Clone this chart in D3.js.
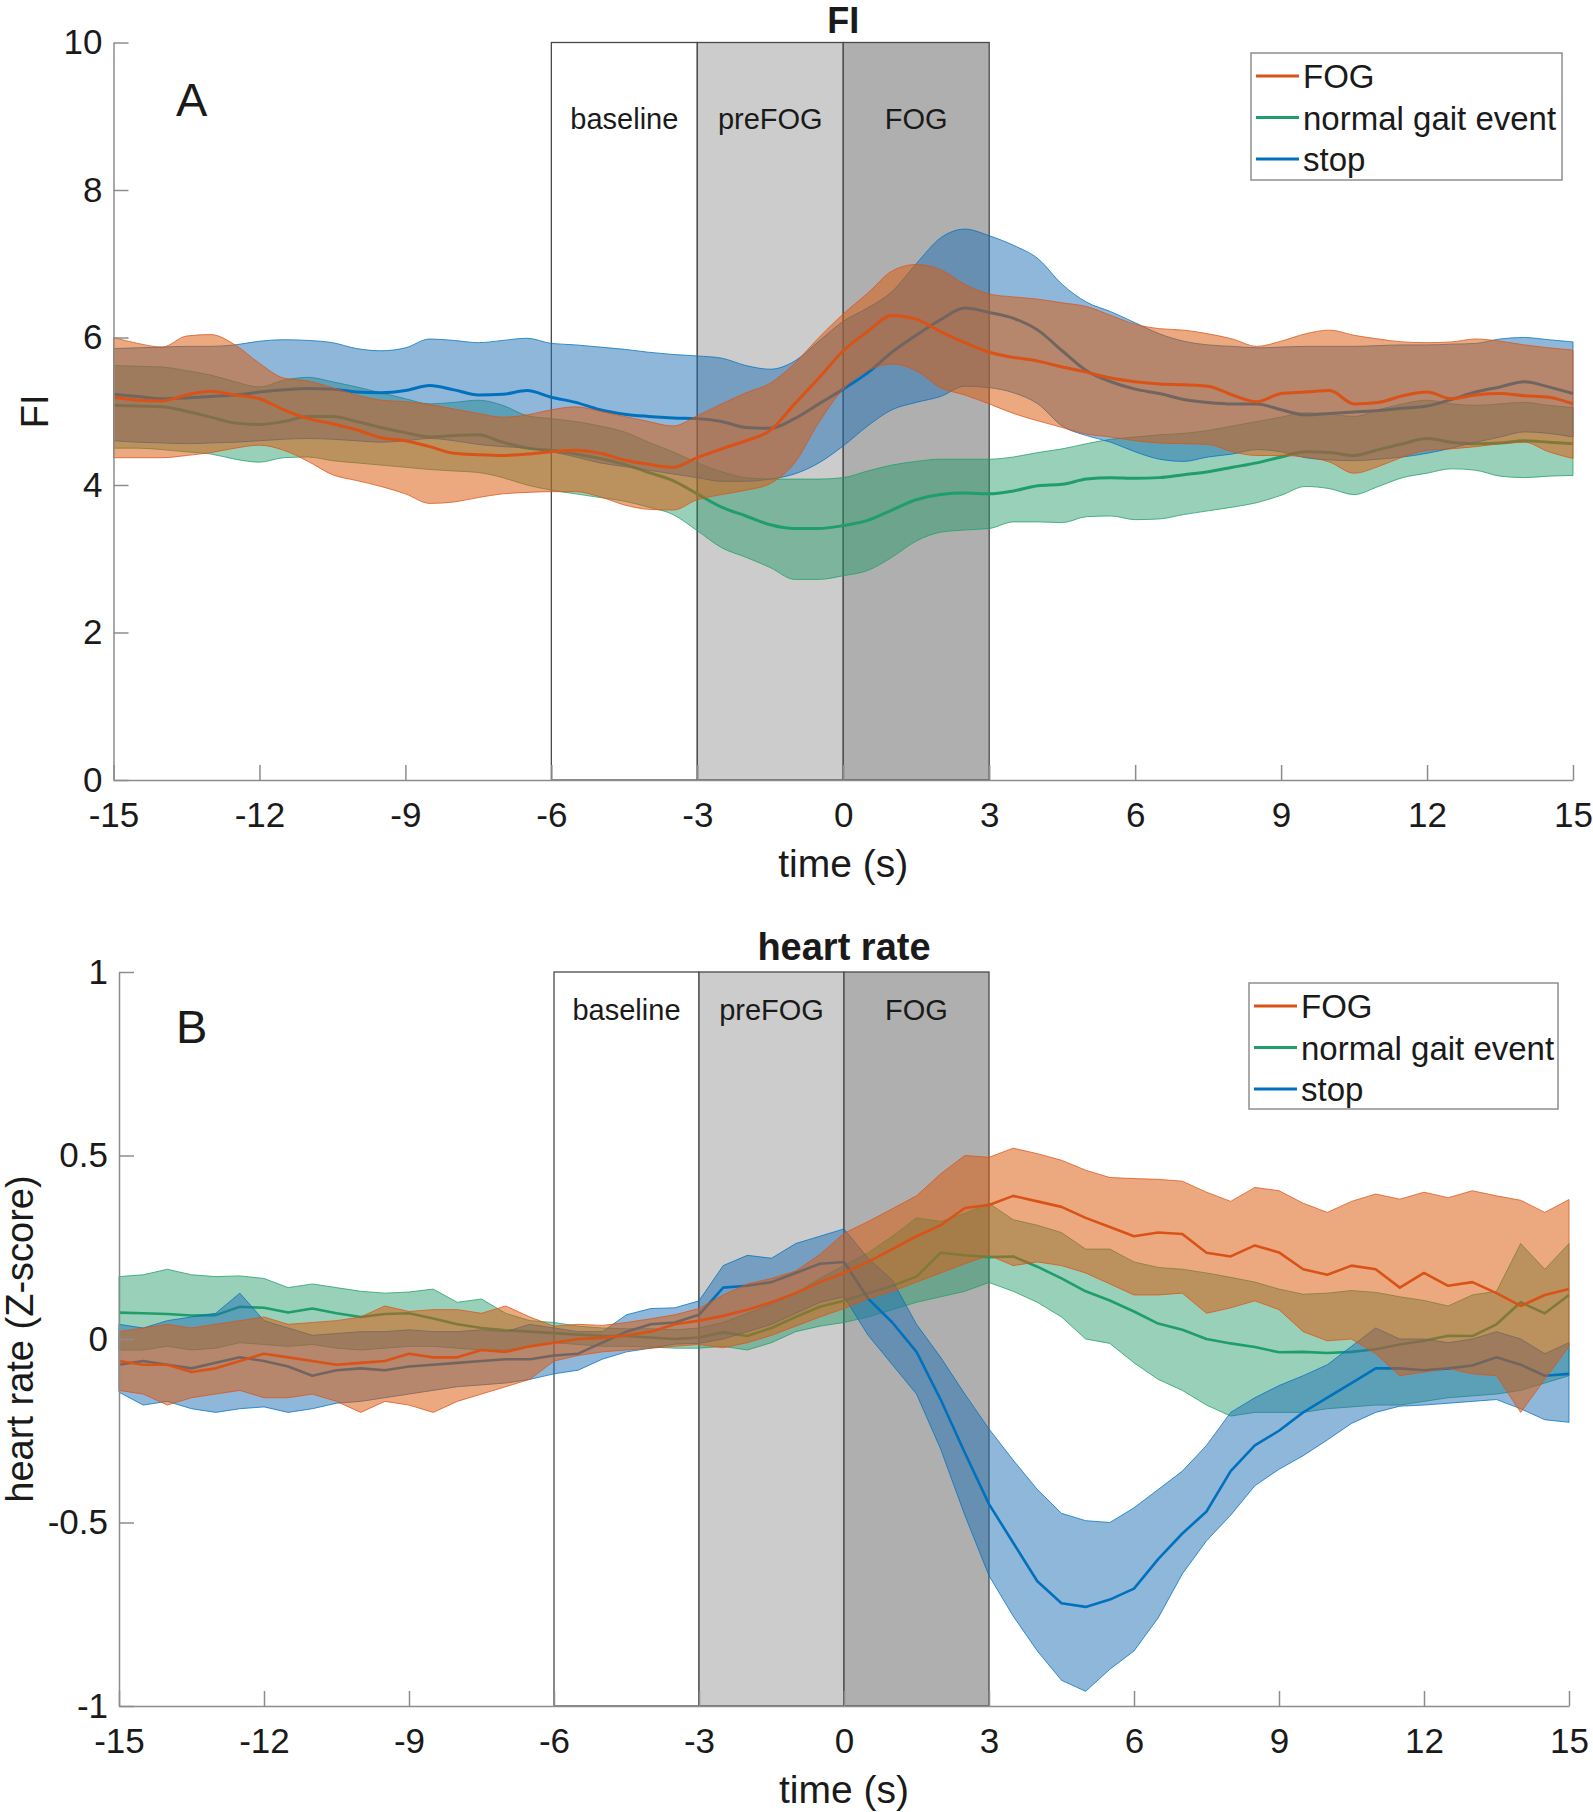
<!DOCTYPE html>
<html>
<head>
<meta charset="utf-8">
<script src="https://cdn.jsdelivr.net/npm/d3@7"></script>
<style>
  body { margin: 0; background: #fff; }
  text { font-family: "Liberation Sans", Arial, Helvetica, sans-serif; fill: #1a1a1a; }
</style>
</head>
<body>
<script>
// sample times (s), shared by both panels
const seconds = [-15, -14.5, -14, -13.5, -13, -12.5, -12, -11.5, -11, -10.5,
  -10, -9.5, -9, -8.5, -8, -7.5, -7, -6.5, -6, -5.5,
  -5, -4.5, -4, -3.5, -3, -2.5, -2, -1.5, -1, -0.5,
  0, 0.5, 1, 1.5, 2, 2.5, 3, 3.5, 4, 4.5,
  5, 5.5, 6, 6.5, 7, 7.5, 8, 8.5, 9, 9.5,
  10, 10.5, 11, 11.5, 12, 12.5, 13, 13.5, 14, 14.5, 15];

const xTicks = [-15, -12, -9, -6, -3, 0, 3, 6, 9, 12, 15];
const fiTicks = [0, 2, 4, 6, 8, 10];
const hrTicks = [-1, -0.5, 0, 0.5, 1];

const periods = [
  { from: -6, to: -3, label: 'baseline', fill: '#ffffff' },
  { from: -3, to: 0, label: 'preFOG', fill: '#cccccc' },
  { from: 0, to: 3, label: 'FOG', fill: '#afafaf' }
];

const legendNames = ['FOG', 'normal gait event', 'stop'];

// ---- panel A: FI ----
const fiFogMean = [5.19, 5.15, 5.14, 5.22, 5.27, 5.22, 5.17, 5.02, 4.90, 4.83,
  4.75, 4.64, 4.60, 4.52, 4.43, 4.41, 4.40, 4.42, 4.45, 4.47,
  4.43, 4.34, 4.28, 4.24, 4.37, 4.49, 4.60, 4.74, 5.10, 5.45,
  5.82, 6.08, 6.30, 6.25, 6.08, 5.93, 5.80, 5.73, 5.68, 5.60,
  5.53, 5.45, 5.40, 5.37, 5.36, 5.34, 5.22, 5.13, 5.24, 5.26,
  5.28, 5.10, 5.12, 5.21, 5.26, 5.17, 5.22, 5.24, 5.21, 5.19, 5.10];
const fiFogHi = [6.00, 5.92, 5.87, 6.02, 6.04, 5.90, 5.65, 5.45, 5.41, 5.32,
  5.22, 5.15, 5.13, 5.09, 5.03, 4.97, 4.92, 4.95, 5.02, 5.06,
  5.00, 4.93, 4.86, 4.80, 4.94, 5.10, 5.25, 5.38, 5.65, 6.00,
  6.32, 6.60, 6.90, 6.99, 6.92, 6.72, 6.59, 6.55, 6.52, 6.47,
  6.42, 6.30, 6.18, 6.12, 6.10, 6.05, 5.98, 5.88, 5.95, 6.05,
  6.10, 6.03, 5.98, 5.94, 5.93, 5.94, 5.98, 5.95, 5.90, 5.86, 5.83];
const fiFogLo = [4.37, 4.37, 4.37, 4.40, 4.44, 4.50, 4.54, 4.47, 4.32, 4.14,
  4.06, 3.98, 3.88, 3.75, 3.77, 3.83, 3.88, 3.90, 3.91, 3.91,
  3.84, 3.73, 3.67, 3.66, 3.80, 3.87, 3.93, 4.02, 4.30, 4.85,
  5.30, 5.55, 5.64, 5.55, 5.32, 5.22, 5.10, 4.97, 4.87, 4.78,
  4.69, 4.65, 4.60, 4.57, 4.56, 4.55, 4.45, 4.40, 4.40, 4.38,
  4.31, 4.16, 4.25, 4.38, 4.47, 4.49, 4.52, 4.56, 4.58, 4.45, 4.36];

const fiGaitMean = [5.08, 5.07, 5.06, 5.00, 4.92, 4.84, 4.82, 4.86, 4.93, 4.93,
  4.86, 4.78, 4.71, 4.65, 4.67, 4.68, 4.58, 4.50, 4.47, 4.42,
  4.36, 4.28, 4.17, 4.06, 3.88, 3.70, 3.58, 3.46, 3.41, 3.41,
  3.45, 3.52, 3.66, 3.80, 3.87, 3.89, 3.88, 3.92, 3.99, 4.01,
  4.08, 4.10, 4.09, 4.10, 4.14, 4.18, 4.24, 4.30, 4.38, 4.45,
  4.44, 4.40, 4.48, 4.56, 4.63, 4.58, 4.56, 4.57, 4.60, 4.58, 4.56];
const fiGaitHi = [5.62, 5.61, 5.60, 5.55, 5.49, 5.40, 5.33, 5.42, 5.46, 5.40,
  5.33, 5.25, 5.17, 5.10, 5.12, 5.15, 5.08, 4.94, 4.90, 4.86,
  4.80, 4.72, 4.58, 4.45, 4.30, 4.18, 4.10, 4.08, 4.08, 4.08,
  4.10, 4.19, 4.27, 4.32, 4.35, 4.35, 4.35, 4.38, 4.44, 4.49,
  4.56, 4.62, 4.65, 4.68, 4.70, 4.74, 4.80, 4.86, 4.92, 4.98,
  4.96, 4.93, 5.02, 5.10, 5.15, 5.10, 5.08, 5.10, 5.12, 5.08, 5.05];
const fiGaitLo = [4.50, 4.50, 4.48, 4.45, 4.42, 4.35, 4.31, 4.37, 4.38, 4.33,
  4.30, 4.27, 4.24, 4.21, 4.19, 4.17, 4.10, 4.00, 3.93, 3.88,
  3.83, 3.78, 3.70, 3.60, 3.38, 3.15, 3.02, 2.88, 2.72, 2.72,
  2.77, 2.84, 3.02, 3.24, 3.36, 3.39, 3.41, 3.50, 3.50, 3.49,
  3.57, 3.58, 3.53, 3.54, 3.60, 3.65, 3.70, 3.76, 3.86, 3.98,
  3.95, 3.87, 3.98, 4.10, 4.16, 4.22, 4.20, 4.12, 4.10, 4.12, 4.13];

const fiStopMean = [5.23, 5.20, 5.17, 5.18, 5.20, 5.22, 5.26, 5.29, 5.31, 5.30,
  5.26, 5.25, 5.28, 5.35, 5.29, 5.22, 5.23, 5.28, 5.19, 5.12,
  5.02, 4.96, 4.93, 4.91, 4.90, 4.86, 4.78, 4.77, 4.90, 5.10,
  5.30, 5.52, 5.80, 6.03, 6.24, 6.40, 6.34, 6.26, 6.10, 5.82,
  5.55, 5.40, 5.30, 5.24, 5.16, 5.12, 5.10, 5.10, 5.02, 4.95,
  4.97, 4.99, 5.01, 5.04, 5.07, 5.16, 5.26, 5.33, 5.40, 5.33, 5.24];
const fiStopHi = [5.85, 5.86, 5.87, 5.88, 5.88, 5.90, 5.95, 5.97, 5.96, 5.93,
  5.85, 5.82, 5.86, 5.98, 5.96, 5.93, 5.96, 5.99, 5.92, 5.90,
  5.87, 5.84, 5.80, 5.77, 5.75, 5.72, 5.62, 5.57, 5.68, 5.95,
  6.22, 6.40, 6.62, 7.00, 7.35, 7.47, 7.38, 7.25, 7.07, 6.72,
  6.48, 6.35, 6.20, 6.05, 5.95, 5.90, 5.88, 5.86, 5.87, 5.88,
  5.88, 5.88, 5.89, 5.90, 5.90, 5.91, 5.92, 5.98, 6.00, 5.97, 5.94];
const fiStopLo = [4.60, 4.58, 4.57, 4.56, 4.57, 4.58, 4.60, 4.62, 4.63, 4.62,
  4.60, 4.58, 4.60, 4.63, 4.60, 4.55, 4.52, 4.50, 4.45, 4.38,
  4.30, 4.25, 4.20, 4.15, 4.10, 4.05, 4.05, 4.08, 4.15, 4.30,
  4.53, 4.80, 5.02, 5.12, 5.20, 5.34, 5.32, 5.25, 5.10, 4.80,
  4.67, 4.58, 4.45, 4.35, 4.32, 4.38, 4.42, 4.48, 4.45, 4.37,
  4.34, 4.33, 4.35, 4.38, 4.43, 4.50, 4.58, 4.65, 4.72, 4.70, 4.65];

// ---- panel B: heart rate (Z-score) ----
const hrFogMean = [-0.06, -0.07, -0.07, -0.09, -0.08, -0.06, -0.04, -0.05, -0.06, -0.07,
  -0.065, -0.06, -0.04, -0.05, -0.05, -0.03, -0.035, -0.02, -0.01, 0.0,
  0.003, 0.01, 0.02, 0.04, 0.05, 0.063, 0.08, 0.10, 0.125, 0.155,
  0.18, 0.21, 0.245, 0.28, 0.31, 0.357, 0.365, 0.39, 0.375, 0.36,
  0.33, 0.305, 0.28, 0.29, 0.286, 0.235, 0.225, 0.255, 0.236, 0.19,
  0.175, 0.20, 0.19, 0.14, 0.18, 0.145, 0.155, 0.125, 0.09, 0.12, 0.136];
const hrFogHi = [0.02, 0.03, 0.04, 0.03, 0.04, 0.05, 0.06, 0.04, 0.045, 0.05,
  0.06, 0.09, 0.075, 0.08, 0.08, 0.07, 0.09, 0.06, 0.035, 0.04,
  0.037, 0.045, 0.055, 0.066, 0.083, 0.12, 0.15, 0.165, 0.185, 0.23,
  0.288, 0.32, 0.355, 0.39, 0.45, 0.50, 0.495, 0.52, 0.505, 0.487,
  0.46, 0.44, 0.437, 0.435, 0.43, 0.40, 0.375, 0.413, 0.404, 0.37,
  0.345, 0.375, 0.395, 0.381, 0.40, 0.385, 0.404, 0.39, 0.378, 0.345, 0.38];
const hrFogLo = [-0.14, -0.15, -0.18, -0.16, -0.15, -0.14, -0.16, -0.16, -0.15, -0.17,
  -0.20, -0.17, -0.18, -0.20, -0.17, -0.15, -0.13, -0.11, -0.06, -0.045,
  -0.035, -0.03, -0.025, -0.02, -0.015, -0.024, -0.01, 0.01, 0.035, 0.06,
  0.083, 0.11, 0.13, 0.155, 0.18, 0.205, 0.228, 0.20, 0.21, 0.20,
  0.18, 0.15, 0.12, 0.12, 0.125, 0.07, 0.085, 0.104, 0.08, 0.02,
  -0.005, 0.0, -0.04, -0.10, -0.09, -0.08, -0.095, -0.10, -0.20, -0.11, -0.02];

const hrGaitMean = [0.072, 0.07, 0.068, 0.064, 0.065, 0.088, 0.085, 0.072, 0.083, 0.07,
  0.06, 0.068, 0.07, 0.056, 0.04, 0.03, 0.024, 0.02, 0.016, 0.012,
  0.009, 0.008, 0.004, 0.0, 0.004, 0.018, 0.008, 0.03, 0.06, 0.088,
  0.104, 0.125, 0.145, 0.17, 0.235, 0.228, 0.223, 0.225, 0.197, 0.165,
  0.13, 0.105, 0.075, 0.042, 0.025, 0.0, -0.012, -0.022, -0.036, -0.035,
  -0.038, -0.035, -0.028, -0.015, -0.005, 0.009, 0.008, 0.04, 0.10, 0.07, 0.12];
const hrGaitHi = [0.17, 0.175, 0.19, 0.175, 0.17, 0.172, 0.165, 0.14, 0.15, 0.14,
  0.13, 0.125, 0.128, 0.136, 0.10, 0.109, 0.07, 0.05, 0.045, 0.035,
  0.03, 0.028, 0.028, 0.025, 0.03, 0.045, 0.07, 0.095, 0.125, 0.165,
  0.20, 0.235, 0.28, 0.33, 0.32, 0.342, 0.37, 0.325, 0.31, 0.29,
  0.245, 0.245, 0.21, 0.195, 0.19, 0.18, 0.168, 0.155, 0.136, 0.122,
  0.125, 0.132, 0.127, 0.115, 0.105, 0.09, 0.12, 0.13, 0.26, 0.19, 0.26];
const hrGaitLo = [-0.03, -0.03, -0.02, -0.03, -0.025, -0.01, -0.015, -0.02, -0.015, -0.025,
  -0.03, -0.025, -0.02, -0.02, -0.025, -0.03, -0.03, -0.02, -0.01, -0.015,
  -0.02, -0.02, -0.022, -0.025, -0.025, -0.02, -0.03, -0.01, 0.02, 0.035,
  0.045, 0.06, 0.08, 0.10, 0.115, 0.13, 0.154, 0.13, 0.10, 0.06,
  0.0, -0.012, -0.065, -0.11, -0.14, -0.18, -0.21, -0.20, -0.20, -0.20,
  -0.19, -0.185, -0.18, -0.18, -0.17, -0.16, -0.155, -0.15, -0.14, -0.12, -0.10];

const hrStopMean = [-0.07, -0.06, -0.07, -0.08, -0.065, -0.05, -0.06, -0.075, -0.10, -0.085,
  -0.08, -0.085, -0.075, -0.07, -0.065, -0.06, -0.055, -0.055, -0.045, -0.04,
  -0.01, 0.02, 0.04, 0.045, 0.066, 0.14, 0.145, 0.155, 0.18, 0.205,
  0.21, 0.11, 0.045, -0.035, -0.165, -0.31, -0.45, -0.555, -0.66, -0.72,
  -0.73, -0.71, -0.68, -0.60, -0.53, -0.47, -0.36, -0.29, -0.25, -0.20,
  -0.16, -0.12, -0.08, -0.08, -0.085, -0.08, -0.072, -0.05, -0.07, -0.10, -0.095];
const hrStopHi = [0.04, 0.03, 0.05, 0.06, 0.07, 0.125, 0.05, 0.03, 0.01, 0.015,
  0.02, 0.02, 0.025, 0.02, 0.02, 0.025, 0.02, 0.04, 0.03, 0.02,
  0.02, 0.066, 0.083, 0.085, 0.104, 0.20, 0.228, 0.22, 0.26, 0.28,
  0.30, 0.22, 0.16, 0.04, -0.05, -0.15, -0.245, -0.33, -0.41, -0.475,
  -0.495, -0.50, -0.46, -0.41, -0.36, -0.29, -0.20, -0.16, -0.127, -0.10,
  -0.07, -0.02, 0.03, 0.0, 0.0, -0.01, 0.0, 0.02, 0.0, -0.04, -0.01];
const hrStopLo = [-0.145, -0.18, -0.17, -0.19, -0.20, -0.19, -0.185, -0.20, -0.19, -0.175,
  -0.17, -0.16, -0.15, -0.14, -0.13, -0.125, -0.12, -0.11, -0.095, -0.085,
  -0.055, -0.035, -0.025, -0.014, -0.012, 0.0, 0.02, 0.04, 0.07, 0.10,
  0.115, 0.01, -0.07, -0.15, -0.30, -0.48, -0.645, -0.755, -0.85, -0.93,
  -0.96, -0.90, -0.85, -0.76, -0.64, -0.55, -0.48, -0.40, -0.355, -0.318,
  -0.275, -0.23, -0.20, -0.183, -0.18, -0.175, -0.17, -0.165, -0.19, -0.22, -0.227];

// line colours and (lighter) band fills
const fogColor = '#d95319', fogFill = '#db5a0a';
const gaitColor = '#1f9d6b', gaitFill = '#1c9763';
const stopColor = '#0072bd', stopFill = '#1f6fb5';
const legendColors = [fogColor, gaitColor, stopColor];

const svg = d3.select('body').append('svg')
  .attr('width', 1593)
  .attr('height', 1812);

const panels = [
  {
    left: 113.5, right: 1573, top: 42.5, bottom: 780,
    domain: [0, 10], yTicks: fiTicks, curve: d3.curveMonotoneX, lineWidth: 3,
    title: 'FI', titleY: 33, ylabel: 'FI', ylabelX: 48,
    letter: 'A', letterY: 116, periodLabelAt: 8.83,
    legend: { x: 1251, y: 53, w: 311, h: 127 },
    // drawing order: green, blue, orange on top
    series: [
      { color: gaitColor, fill: gaitFill, alpha: 0.45, mean: fiGaitMean, lo: fiGaitLo, hi: fiGaitHi },
      { color: stopColor, fill: stopFill, alpha: 0.5, mean: fiStopMean, lo: fiStopLo, hi: fiStopHi },
      { color: fogColor, fill: fogFill, alpha: 0.52, mean: fiFogMean, lo: fiFogLo, hi: fiFogHi }
    ]
  },
  {
    left: 119, right: 1569, top: 972, bottom: 1706,
    domain: [-1, 1], yTicks: hrTicks, curve: d3.curveLinear, lineWidth: 2.6,
    title: 'heart rate', titleY: 960, ylabel: 'heart rate (Z-score)', ylabelX: 33,
    letter: 'B', letterY: 1043, periodLabelAt: 0.87,
    legend: { x: 1249, y: 983, w: 309, h: 126 },
    series: [
      { color: gaitColor, fill: gaitFill, alpha: 0.45, mean: hrGaitMean, lo: hrGaitLo, hi: hrGaitHi },
      { color: stopColor, fill: stopFill, alpha: 0.5, mean: hrStopMean, lo: hrStopLo, hi: hrStopHi },
      { color: fogColor, fill: fogFill, alpha: 0.52, mean: hrFogMean, lo: hrFogLo, hi: hrFogHi }
    ]
  }
];

panels.forEach(drawPanel);

function drawPanel(p) {
  const x = d3.scaleLinear().domain([-15, 15]).range([p.left, p.right]);
  const y = d3.scaleLinear().domain(p.domain).range([p.bottom, p.top]);
  const g = svg.append('g');

  // shaded periods
  g.selectAll('rect.period')
    .data(periods)
    .join('rect')
    .attr('class', 'period')
    .attr('x', d => x(d.from))
    .attr('width', d => x(d.to) - x(d.from))
    .attr('y', y(p.domain[1]))
    .attr('height', y(p.domain[0]) - y(p.domain[1]))
    .attr('fill', d => d.fill)
    .attr('stroke', '#4a4a4a')
    .attr('stroke-width', 1.3);

  // bands + mean lines
  p.series.forEach(s => {
    const rows = seconds.map((t, i) => ({ t, m: s.mean[i], lo: s.lo[i], hi: s.hi[i] }));
    const area = d3.area()
      .x(d => x(d.t))
      .y0(d => y(d.lo))
      .y1(d => y(d.hi))
      .curve(p.curve);
    const line = d3.line()
      .x(d => x(d.t))
      .y(d => y(d.m))
      .curve(p.curve);

    g.append('path')
      .datum(rows)
      .attr('d', area)
      .attr('fill', s.fill)
      .attr('fill-opacity', s.alpha)
      .attr('stroke', s.color)
      .attr('stroke-opacity', 0.75)
      .attr('stroke-width', 1);

    g.append('path')
      .datum(rows)
      .attr('d', line)
      .attr('fill', 'none')
      .attr('stroke', s.color)
      .attr('stroke-width', p.lineWidth)
      .attr('stroke-linejoin', 'round');
  });

  // axes (ticks point inward)
  const xAxis = g.append('g')
    .attr('transform', `translate(0,${p.bottom})`)
    .call(d3.axisBottom(x).tickValues(xTicks).tickFormat(d => String(d))
      .tickSizeInner(-15).tickSizeOuter(0).tickPadding(22));
  const yAxis = g.append('g')
    .attr('transform', `translate(${p.left},0)`)
    .call(d3.axisLeft(y).tickValues(p.yTicks).tickFormat(d => String(d))
      .tickSizeInner(-15).tickSizeOuter(0).tickPadding(11));
  [xAxis, yAxis].forEach(a => {
    a.attr('font-size', 35).attr('font-family', '"Liberation Sans", Arial, sans-serif');
    a.select('.domain').attr('stroke', '#8c8c8c').attr('stroke-width', 1.5);
    a.selectAll('.tick line').attr('stroke', '#8c8c8c').attr('stroke-width', 1.5);
    a.selectAll('.tick text').attr('fill', '#1a1a1a');
  });

  // period labels
  g.selectAll('text.period')
    .data(periods)
    .join('text')
    .attr('class', 'period')
    .attr('x', d => x((d.from + d.to) / 2))
    .attr('y', y(p.periodLabelAt))
    .attr('text-anchor', 'middle')
    .attr('font-size', 29)
    .text(d => d.label);

  // title, axis labels, panel letter
  g.append('text')
    .attr('x', x(0))
    .attr('y', p.titleY)
    .attr('text-anchor', 'middle')
    .attr('font-size', p.title === 'FI' ? 36 : 38)
    .attr('font-weight', 'bold')
    .text(p.title);

  g.append('text')
    .attr('x', x(0))
    .attr('y', p.bottom + 97)
    .attr('text-anchor', 'middle')
    .attr('font-size', 39)
    .text('time (s)');

  g.append('text')
    .attr('transform', `translate(${p.ylabelX},${(p.top + p.bottom) / 2}) rotate(-90)`)
    .attr('text-anchor', 'middle')
    .attr('font-size', 38)
    .text(p.ylabel);

  g.append('text')
    .attr('x', 176)
    .attr('y', p.letterY)
    .attr('font-size', 47)
    .text(p.letter);

  // legend
  const lg = g.append('g').attr('transform', `translate(${p.legend.x},${p.legend.y})`);
  lg.append('rect')
    .attr('width', p.legend.w)
    .attr('height', p.legend.h)
    .attr('fill', '#ffffff')
    .attr('stroke', '#8f8f8f')
    .attr('stroke-width', 1.5);
  const rows = lg.selectAll('g.entry')
    .data(legendNames)
    .join('g')
    .attr('class', 'entry')
    .attr('transform', (d, i) => `translate(0,${23 + i * 41.5})`);
  rows.append('line')
    .attr('x1', 5).attr('x2', 48)
    .attr('stroke', (d, i) => legendColors[i])
    .attr('stroke-width', 3);
  rows.append('text')
    .attr('x', 52)
    .attr('y', 12)
    .attr('font-size', 33)
    .text(d => d);
}
</script>
</body>
</html>
